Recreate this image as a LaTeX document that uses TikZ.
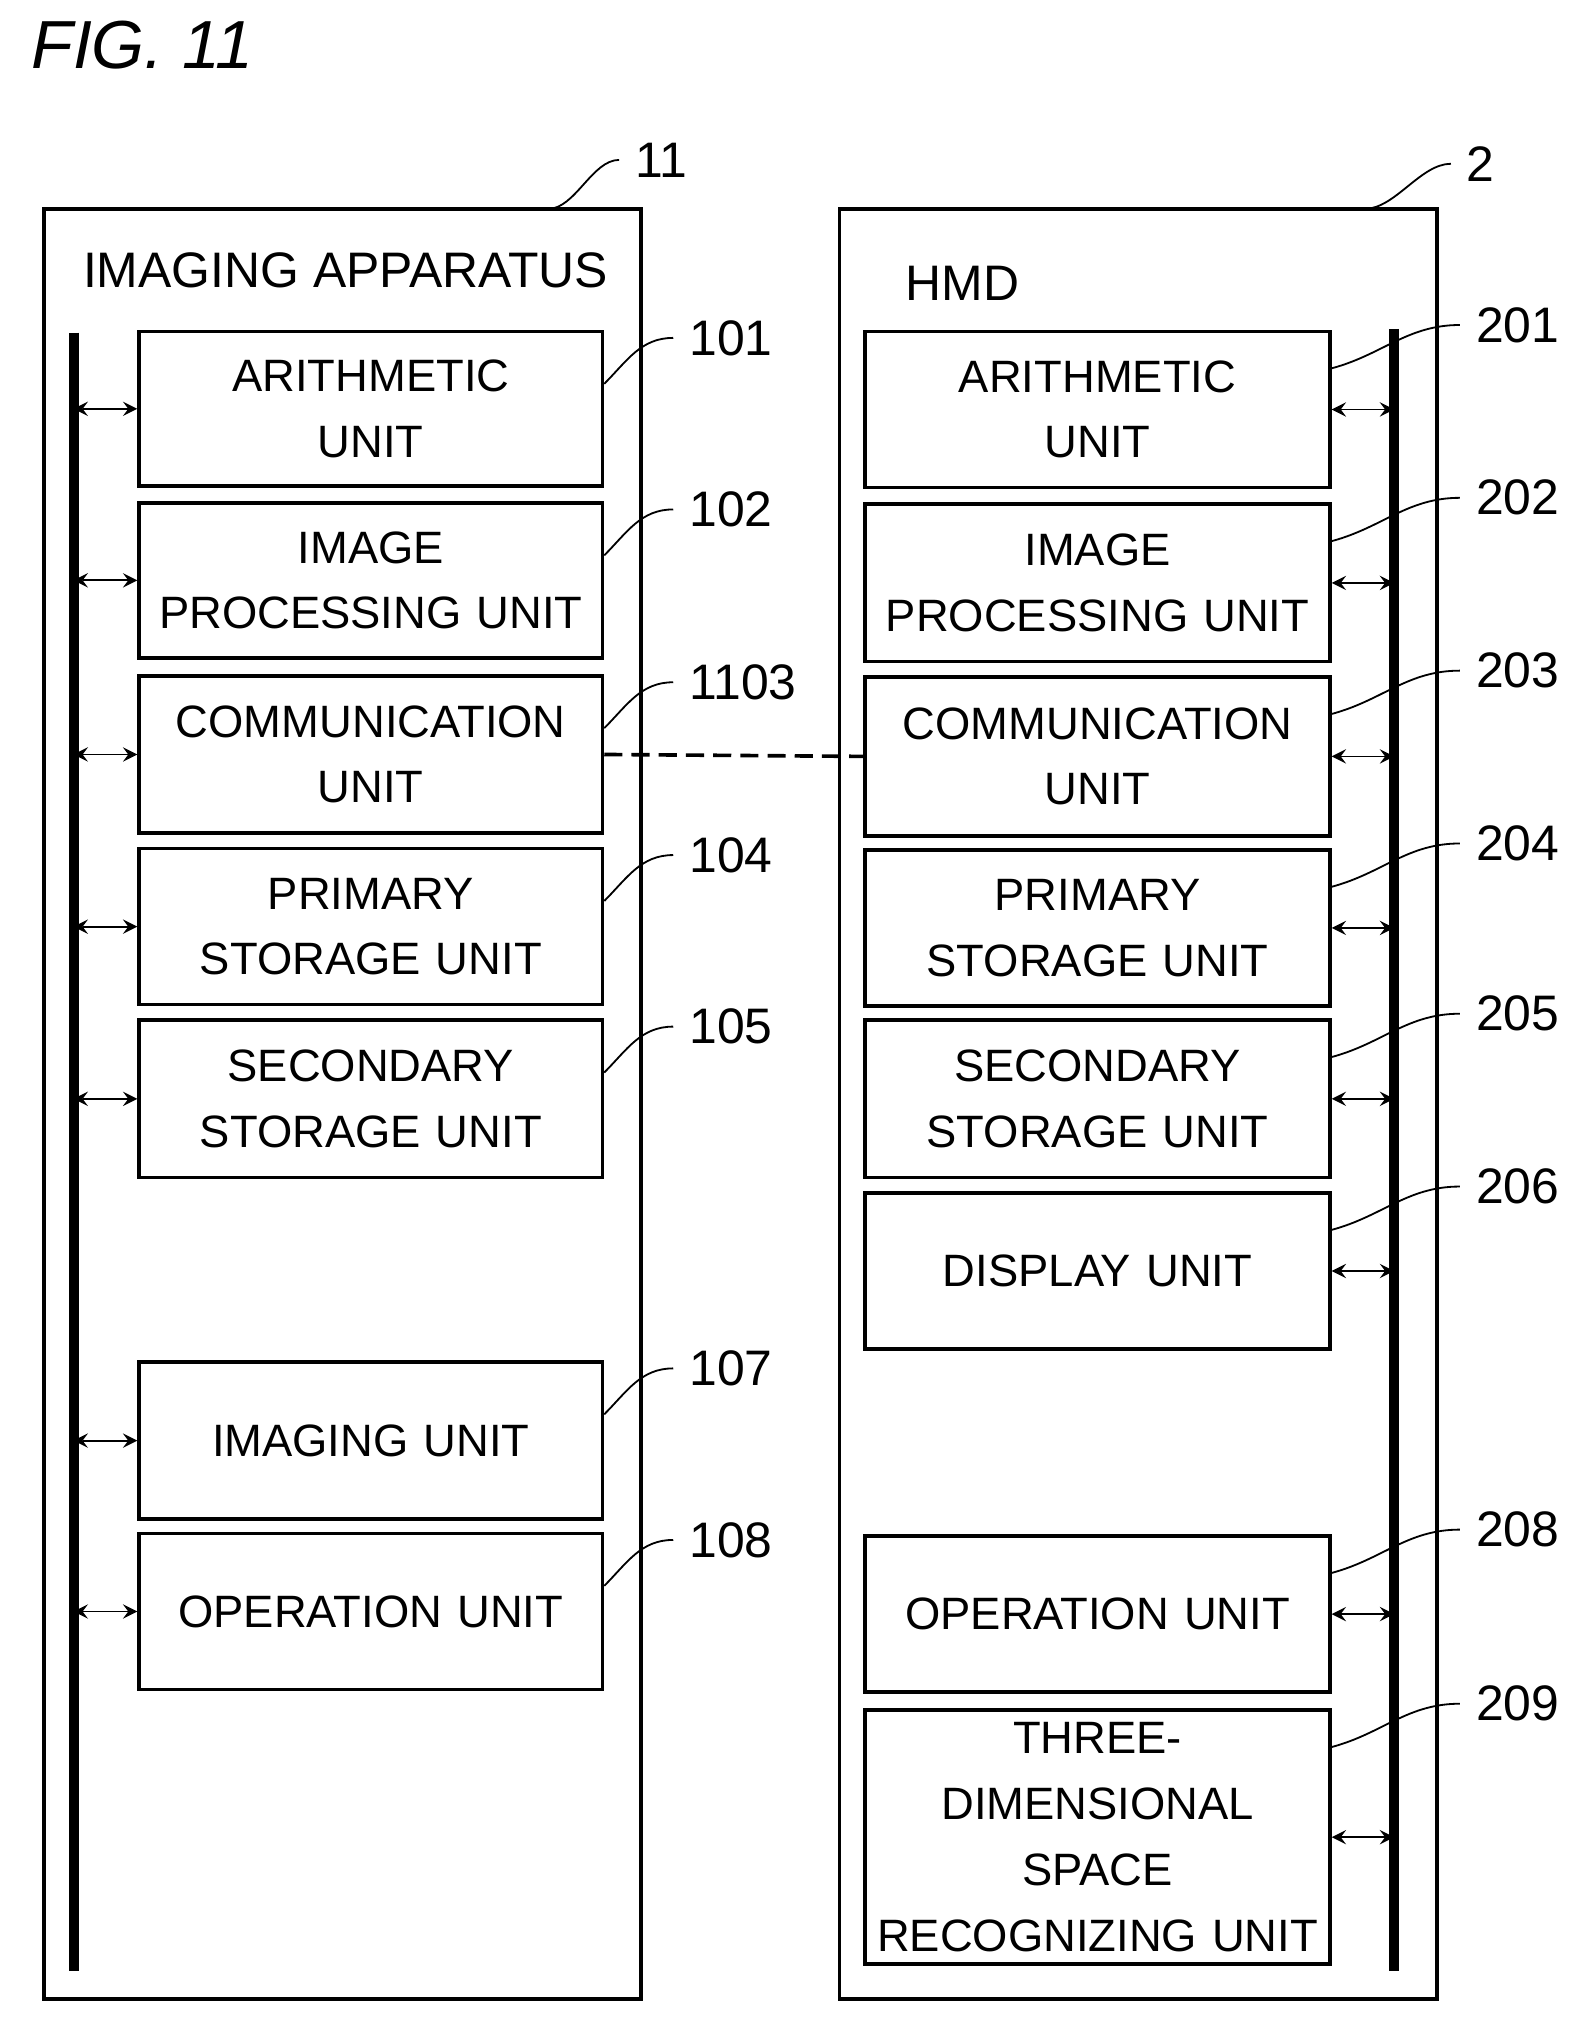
\documentclass[tikz,border=0pt]{standalone}
\usepackage{fontspec}
\setmainfont{Liberation Sans}
\usetikzlibrary{calc}
\tikzset{
	unit/.style={draw,thick,align=center,inner sep=0pt,font=\fontsize{10}{14.5}\selectfont},
	bus/.style={line width=2.2pt},
	link/.style={<->,>=stealth,thin},
	leader/.style={thin},
	num/.style={font=\fontsize{11}{13}\selectfont,anchor=west},
}
\begin{document}
\begin{tikzpicture}[x=0.01cm,y=-0.01cm]

	\useasboundingbox (0,0) rectangle (1220,1574);

	\node[font=\itshape\fontsize{15}{18}\selectfont,anchor=west] (fig) at (12,35) {FIG. 11};

	% apparatus frames
	\draw[thick] (34,162) coordinate (Ltop) rectangle (497,1550);
	\draw[thick] (651,162) coordinate (Rtop) rectangle (1114,1550);
	\node[num] (Lname) at (52,210) {IMAGING APPARATUS};
	\node[num] (Rname) at (690,220) {HMD};

	\node[num] (n11) at (480,124) {11};
	\draw[leader] (425,162) coordinate (a11) to[out=0,in=180,looseness=0.8] (n11.west);
	\node[num] (n2) at (1125,127) {2};
	\draw[leader] (1058,162) coordinate (a2) to[out=0,in=180,looseness=0.8] (n2.west);

	% buses
	\draw[bus] (57,258) coordinate (Lb1) -- (57,1528) coordinate (Lb2);
	\draw[bus] (1081,255) coordinate (Rb1) -- (1081,1528) coordinate (Rb2);

	% left units
	\foreach \id/\top/\bot/\txt in {
		101/257/377/{ARITHMETIC\\UNIT},
		102/390/510/{IMAGE\\PROCESSING UNIT},
		1103/524/646/{COMMUNICATION\\UNIT},
		104/658/779/{PRIMARY\\STORAGE UNIT},
		105/791/913/{SECONDARY\\STORAGE UNIT},
		107/1056/1178/{IMAGING UNIT},
		108/1189/1310/{OPERATION UNIT}} {
		\node[unit,text width=3.59cm,minimum height={(\bot-\top)*0.01cm}] (L\id) at (287.5,{(\top+\bot)/2}) {\txt};
		\draw[link] (57,{(\top+\bot)/2}) -- (L\id.west);
		\node[num] (l\id) at (522,\top+5) {\id};
		\draw[leader] ($(L\id.north east)+(0,42)$) to[out=45,in=180] (l\id.west);
	}

	% right units
	\foreach \id/\top/\bot/\txt in {
		201/257/378/{ARITHMETIC\\UNIT},
		202/391/513/{IMAGE\\PROCESSING UNIT},
		203/525/648/{COMMUNICATION\\UNIT},
		204/659/780/{PRIMARY\\STORAGE UNIT},
		205/791/913/{SECONDARY\\STORAGE UNIT},
		206/925/1046/{DISPLAY UNIT},
		208/1191/1312/{OPERATION UNIT},
		209/1326/1523/{THREE-\\DIMENSIONAL\\SPACE\\RECOGNIZING UNIT}} {
		\node[unit,text width=3.6cm,minimum height={(\bot-\top)*0.01cm}] (R\id) at (851,{(\top+\bot)/2}) {\txt};
		\draw[link] (R\id.east) -- (1081,{(\top+\bot)/2});
		\node[num] (r\id) at (1132,\top-5) {\id};
		\draw[leader] ($(R\id.north east)+(0,30)$) to[out=15,in=180] (r\id.west);
	}

	\draw[thick,dashed,dash pattern=on 4pt off 2pt] (L1103.east) -- (R203.west);

\end{tikzpicture}
\end{document}
